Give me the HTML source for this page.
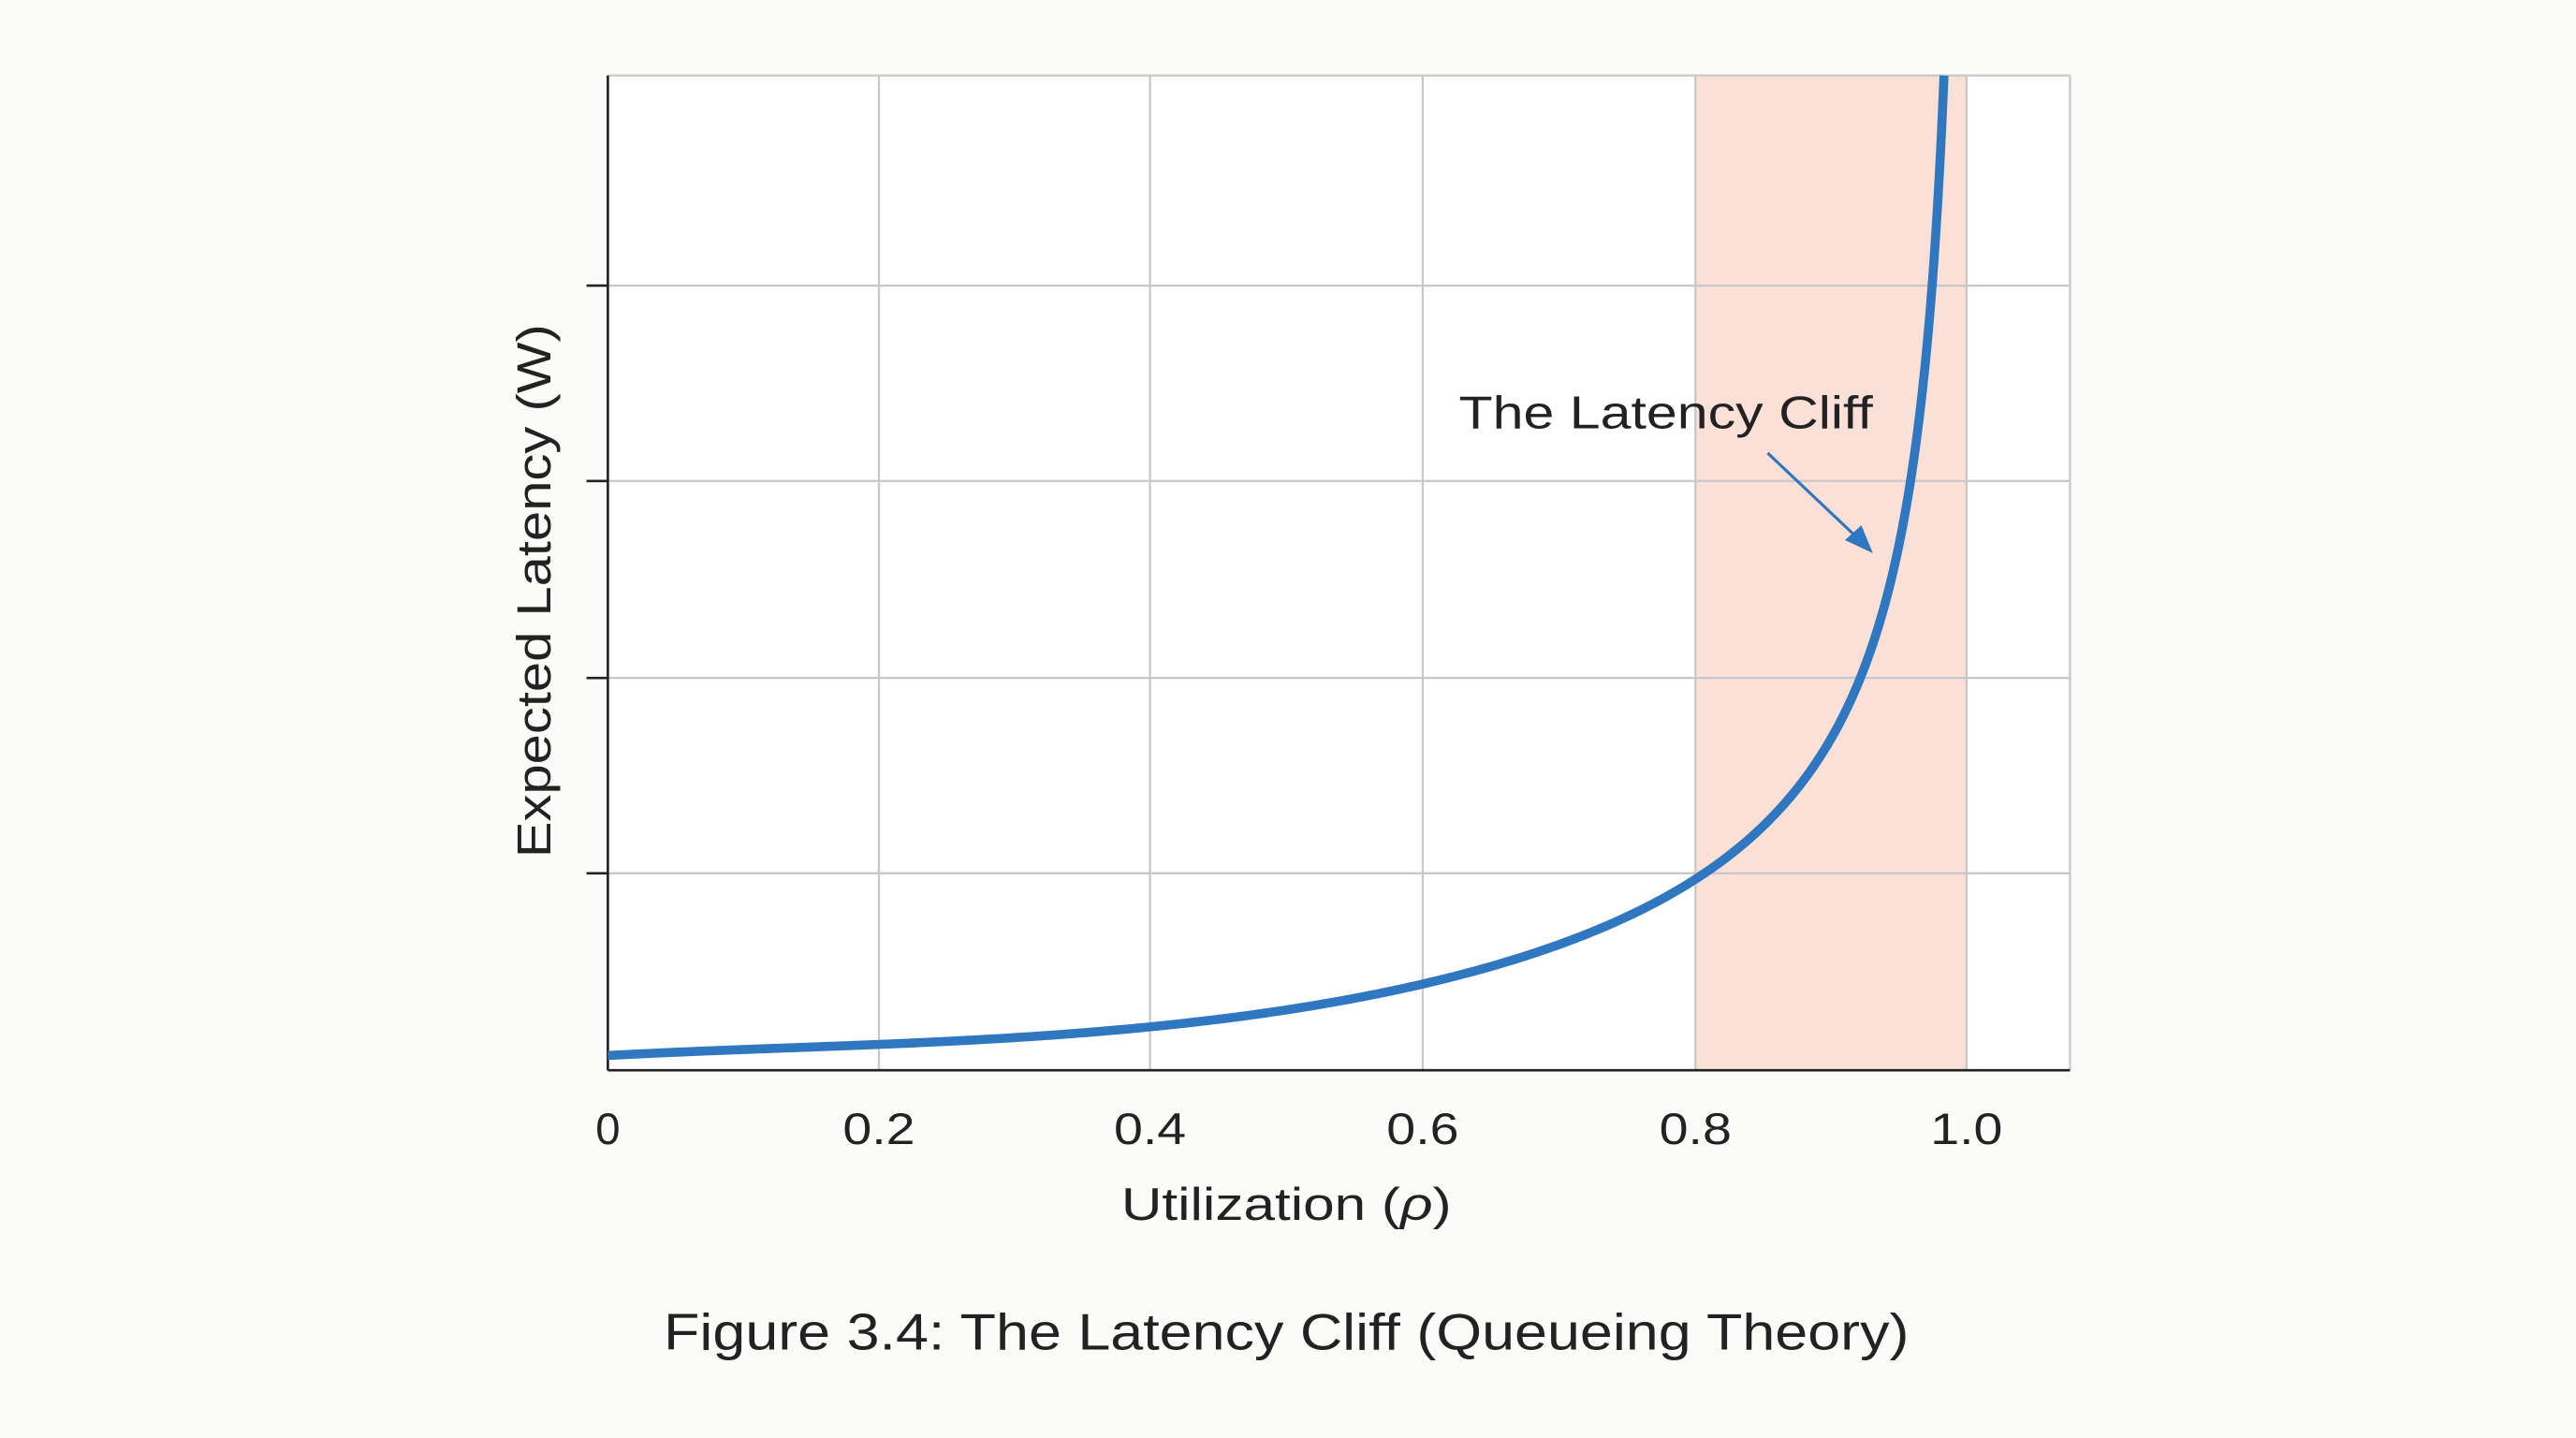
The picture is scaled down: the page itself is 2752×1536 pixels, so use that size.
<!DOCTYPE html>
<html><head><meta charset="utf-8"><style>
html,body{margin:0;padding:0;background:#fbfbf9;}
svg{display:block;}
text{font-family:"Liberation Sans","DejaVu Sans",sans-serif;fill:#222;}
</style></head><body>
<svg width="2752" height="1536" viewBox="0 0 1568 876" preserveAspectRatio="none" xmlns="http://www.w3.org/2000/svg">
<rect x="0" y="0" width="1568" height="876" fill="#fbfbf9"/>
<rect x="370" y="46" width="890" height="606" fill="#ffffff"/>
<rect x="1032" y="46" width="165" height="606" fill="#fbe0d8"/>
<g stroke="#c8c8cc" stroke-width="1.3">
<line x1="535" y1="46" x2="535" y2="652"/>
<line x1="700" y1="46" x2="700" y2="652"/>
<line x1="866" y1="46" x2="866" y2="652"/>
<line x1="1032" y1="46" x2="1032" y2="652"/>
<line x1="1197" y1="46" x2="1197" y2="652"/>
<line x1="370" y1="174" x2="1260" y2="174"/>
<line x1="370" y1="293" x2="1260" y2="293"/>
<line x1="370" y1="413" x2="1260" y2="413"/>
<line x1="370" y1="532" x2="1260" y2="532"/>
<line x1="370" y1="46" x2="1260" y2="46"/>
<line x1="1260" y1="46" x2="1260" y2="652"/>
</g>
<g stroke="#222" stroke-width="1.5">
<line x1="370" y1="46" x2="370" y2="652"/>
<line x1="370" y1="652" x2="1260" y2="652"/>
<line x1="357" y1="174" x2="370" y2="174"/>
<line x1="357" y1="293" x2="370" y2="293"/>
<line x1="357" y1="413" x2="370" y2="413"/>
<line x1="357" y1="532" x2="370" y2="532"/>
</g>
<polyline id="curve" points="370,643 866,600 1032,532 1130,410 1186,46" fill="none" stroke="#2f77c0" stroke-width="5.5" stroke-linejoin="round"/>
<text x="888" y="261" font-size="28" textLength="252" lengthAdjust="spacingAndGlyphs">The Latency Cliff</text>
<line x1="1076" y1="276" x2="1132" y2="329" stroke="#2f77c0" stroke-width="1.8"/>
<polygon points="1140,337 1123,329 1133,320" fill="#2f77c0"/>
<g font-size="27" text-anchor="middle">
<text x="370" y="697">0</text>
<text x="535" y="697" textLength="44" lengthAdjust="spacingAndGlyphs">0.2</text>
<text x="700" y="697" textLength="44" lengthAdjust="spacingAndGlyphs">0.4</text>
<text x="866" y="697" textLength="44" lengthAdjust="spacingAndGlyphs">0.6</text>
<text x="1032" y="697" textLength="44" lengthAdjust="spacingAndGlyphs">0.8</text>
<text x="1197" y="697" textLength="44" lengthAdjust="spacingAndGlyphs">1.0</text>
</g>
<text x="783" y="743" font-size="28" text-anchor="middle" textLength="201" lengthAdjust="spacingAndGlyphs">Utilization (<tspan font-style="italic">ρ</tspan>)</text>
<text transform="translate(335,360) rotate(-90)" font-size="29" text-anchor="middle" textLength="325" lengthAdjust="spacingAndGlyphs">Expected Latency (W)</text>
<text x="783" y="822" font-size="31" text-anchor="middle" textLength="758" lengthAdjust="spacingAndGlyphs">Figure 3.4: The Latency Cliff (Queueing Theory)</text>
</svg>
<script>
(function(){
var A=90,q=0.5,C=150,pts=[];
function Y(r){return 643-(A*(Math.pow(1/(1-r),q)-1)-C*r*r*(1-r)*(1-r));}
var lo=0.9,hi=0.9999;
for(var n=0;n<60;n++){var m=(lo+hi)/2;if(Y(m)>46)lo=m;else hi=m;}
var rmax=lo;
var rs=[];
for(var i=0;i<=300;i++){rs.push(0.9*i/300);}
for(var j=1;j<=300;j++){rs.push(0.9+(rmax-0.9)*j/300);}
for(var k=0;k<rs.length;k++){var r=rs[k];pts.push((370+827.5*r).toFixed(2)+","+Y(r).toFixed(2));}
document.getElementById("curve").setAttribute("points",pts.join(" "));
})();
</script>
</body></html>
